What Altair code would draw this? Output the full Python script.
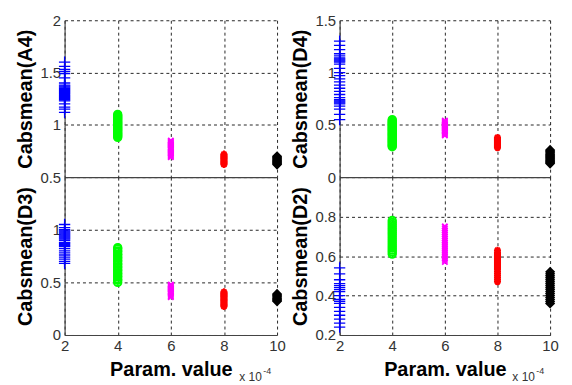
import altair as alt
import pandas as pd

# x positions (units of 1e-4)
params = [2, 4, 6, 8, 10]
colors = ["#0000FF", "#00FF00", "#FF00FF", "#FF0000", "#000000"]

# Cabsmean(A4)
A4_2 = [1.60, 1.56, 1.53, 1.51, 1.49, 1.45, 1.40, 1.38, 1.37, 1.36, 1.35, 1.34, 1.33, 1.32,
        1.31, 1.30, 1.29, 1.28, 1.27, 1.26, 1.25, 1.24, 1.23, 1.20, 1.17, 1.15, 1.12]
A4_4 = [1.10, 1.09, 1.08, 1.07, 1.06, 1.05, 1.04, 1.03, 1.02, 1.01, 1.00, 0.99, 0.98, 0.97,
        0.96, 0.95, 0.94, 0.93, 0.92, 0.91, 0.90, 0.89, 0.88]
A4_6 = [0.85, 0.84, 0.83, 0.82, 0.81, 0.80, 0.79, 0.78, 0.77, 0.76, 0.75, 0.74, 0.73, 0.72,
        0.71, 0.70, 0.69]
A4_8 = [0.72, 0.71, 0.70, 0.69, 0.68, 0.67, 0.66, 0.65, 0.64, 0.63, 0.62]
A4_10 = [0.70, 0.69, 0.68, 0.67, 0.66, 0.65, 0.64, 0.63, 0.62]

# Cabsmean(D4)
D4_2 = [1.30, 1.26, 1.22, 1.18, 1.16, 1.14, 1.13, 1.12, 1.11, 1.10, 1.08, 1.04, 1.00, 0.97,
        0.94, 0.91, 0.88, 0.85, 0.82, 0.79, 0.76, 0.74, 0.73, 0.72, 0.71, 0.70, 0.68, 0.65,
        0.60, 0.55]
D4_4 = [0.55, 0.54, 0.53, 0.52, 0.51, 0.50, 0.49, 0.48, 0.47, 0.46, 0.45, 0.44, 0.43, 0.42,
        0.41, 0.40, 0.39, 0.38, 0.37, 0.36, 0.35, 0.34, 0.33, 0.32, 0.31, 0.30, 0.29]
D4_6 = [0.54, 0.53, 0.52, 0.51, 0.50, 0.49, 0.48, 0.47, 0.46, 0.45, 0.44, 0.43, 0.42, 0.41,
        0.40]
D4_8 = [0.38, 0.37, 0.36, 0.35, 0.34, 0.33, 0.32, 0.31, 0.30, 0.29, 0.28]
D4_10 = [0.26, 0.25, 0.24, 0.23, 0.22, 0.21, 0.20, 0.19, 0.18, 0.17, 0.16, 0.15, 0.14, 0.13]

# Cabsmean(D3)
D3_2 = [1.05, 1.02, 1.00, 0.99, 0.98, 0.97, 0.96, 0.95, 0.94, 0.93, 0.92, 0.91, 0.90, 0.88,
        0.87, 0.86, 0.85, 0.84, 0.82, 0.80, 0.78, 0.76, 0.74, 0.72, 0.70, 0.68]
D3_4 = [0.83, 0.82, 0.80, 0.79, 0.77, 0.76, 0.74, 0.73, 0.71, 0.70, 0.68, 0.67, 0.65, 0.64,
        0.62, 0.61, 0.59, 0.58, 0.56, 0.55, 0.53, 0.52, 0.50]
D3_6 = [0.48, 0.47, 0.46, 0.45, 0.44, 0.43, 0.42, 0.41, 0.40, 0.39, 0.38, 0.37, 0.36]
D3_8 = [0.41, 0.40, 0.39, 0.38, 0.37, 0.36, 0.35, 0.34, 0.33, 0.32, 0.31, 0.30, 0.29, 0.28,
        0.27]
D3_10 = [0.39, 0.38, 0.37, 0.36, 0.35, 0.34, 0.33, 0.32]

# Cabsmean(D2)
D2_2 = [0.54, 0.51, 0.48, 0.46, 0.45, 0.44, 0.43, 0.42, 0.40, 0.38, 0.37, 0.36, 0.34, 0.32,
        0.30, 0.28, 0.26, 0.24]
D2_4 = [0.78, 0.77, 0.76, 0.75, 0.74, 0.73, 0.72, 0.71, 0.70, 0.69, 0.68, 0.67, 0.66, 0.65,
        0.64, 0.63, 0.62, 0.61]
D2_6 = [0.75, 0.74, 0.73, 0.72, 0.71, 0.70, 0.69, 0.68, 0.67, 0.66, 0.65, 0.64, 0.63, 0.62,
        0.61, 0.60, 0.59, 0.58, 0.57]
D2_8 = [0.63, 0.62, 0.61, 0.60, 0.59, 0.58, 0.57, 0.56, 0.55, 0.54, 0.53, 0.52, 0.51, 0.50,
        0.49, 0.48, 0.47]
D2_10 = [0.52, 0.51, 0.50, 0.49, 0.48, 0.47, 0.46, 0.45, 0.44, 0.43, 0.42, 0.41, 0.40, 0.39,
         0.38, 0.37, 0.36]

PLUS = "M-1,0L1,0M0,-1L0,1"
XMARK = "M-1,-1L1,1M-1,1L1,-1"
STAR = "M-1,0L1,0M0,-1L0,1M-0.7,-0.7L0.7,0.7M-0.7,0.7L0.7,-0.7"
shapes = [PLUS, "circle", XMARK, STAR, "diamond"]
sizes = [130, 55, 30, 50, 55]
widths = [1.3, 2, 1.8, 2, 2]

FONT = "Liberation Sans"


def panel(series, title, domain, ticks, bottom, w, h):
    layers = []
    for p, vals, col, shp, sz, sw in zip(params, series, colors, shapes, sizes, widths):
        df = pd.DataFrame({"x": [p] * len(vals), "y": vals})
        layers.append(
            alt.Chart(df).mark_point(shape=shp, filled=False, color=col, size=sz,
                                      strokeWidth=sw, opacity=1).encode(
                x=alt.X("x:Q", scale=alt.Scale(domain=[2, 10], nice=False, zero=False),
                        axis=alt.Axis(values=params, labels=bottom,
                                      title="Param. value" if bottom else None)),
                y=alt.Y("y:Q", scale=alt.Scale(domain=domain, nice=False, zero=False),
                        axis=alt.Axis(values=ticks, format="~g", title=title)),
            )
        )
    if bottom:
        layers.append(
            alt.Chart(pd.DataFrame({"t": ["x 10"]})).mark_text(
                align="left", baseline="alphabetic", fontSize=12, font=FONT, color="#333333"
            ).encode(text="t:N", x=alt.value(w - 38), y=alt.value(h + 46))
        )
        layers.append(
            alt.Chart(pd.DataFrame({"t": ["-4"]})).mark_text(
                align="left", baseline="alphabetic", fontSize=9, font=FONT, color="#333333"
            ).encode(text="t:N", x=alt.value(w - 14), y=alt.value(h + 39))
        )
    return alt.layer(*layers).properties(width=w, height=h)


tl = panel([A4_2, A4_4, A4_6, A4_8, A4_10], "Cabsmean(A4)", [0.5, 2], [0.5, 1, 1.5, 2], False, 214, 158)
tr = panel([D4_2, D4_4, D4_6, D4_8, D4_10], "Cabsmean(D4)", [0, 1.5], [0, 0.5, 1, 1.5], False, 212, 158)
bl = panel([D3_2, D3_4, D3_6, D3_8, D3_10], "Cabsmean(D3)", [0, 1.5], [0, 0.5, 1], True, 214, 159)
br = panel([D2_2, D2_4, D2_6, D2_8, D2_10], "Cabsmean(D2)", [0.2, 1.0], [0.2, 0.4, 0.6, 0.8], True, 212, 159)

chart = alt.concat(tl, tr, bl, br, columns=2).properties(
    spacing=alt.RowColnumber(row=0, column=63),
    bounds="flush",
    padding={"left": 8, "top": 4, "right": 5, "bottom": 0},
    background="white",
).configure_view(stroke=None).configure_axis(
    grid=True, gridColor="#000000", gridDash=[3, 3], gridOpacity=0.85, gridWidth=1,
    domainColor="#444444", domainWidth=1.2, ticks=False, labelPadding=4,
    labelFont=FONT, labelFontSize=15, labelColor="#333333",
    titleFont=FONT, titleFontSize=20, titleFontWeight="bold", titleColor="#000000",
    titlePadding=4,
).configure_axisX(titlePadding=6, labelFlush=False)

chart.save("out.html", embed_options={"renderer": "svg", "actions": False})
